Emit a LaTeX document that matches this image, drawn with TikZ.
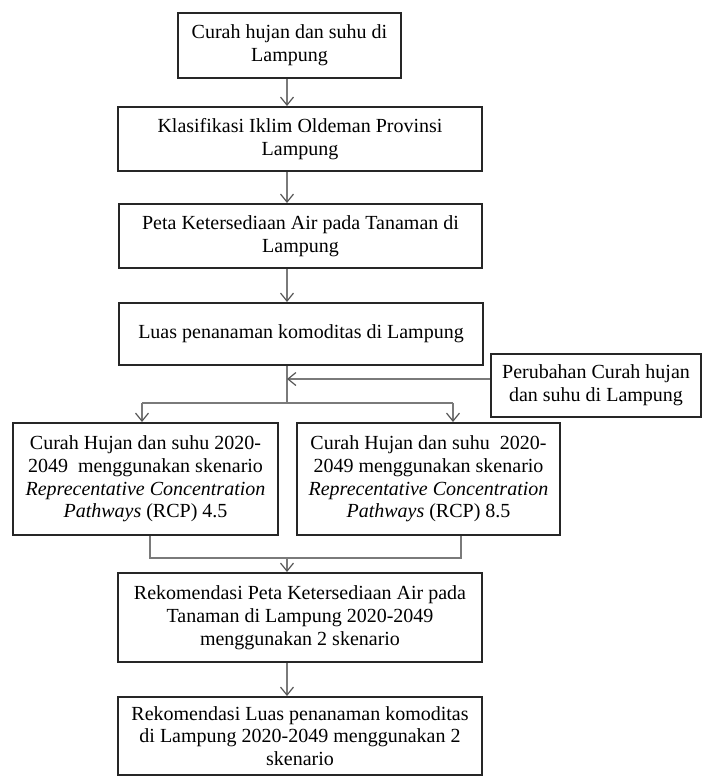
\documentclass[tikz,border=0pt]{standalone}
\usepackage{fontspec}
\setmainfont{Liberation Serif}
\usetikzlibrary{arrows.meta,positioning,calc}
\definecolor{boxline}{HTML}{262626}
\definecolor{linkgray}{HTML}{7A7A7A}
\definecolor{tipgray}{HTML}{555555}
\tikzset{
  flowbox/.style={draw=boxline, line width=1pt, fill=white, align=center,
                  inner sep=3pt, text=black, font=\fontsize{10pt}{11.4pt}\selectfont},
  conn/.style={draw=linkgray, line width=0.65pt},
  arr/.style={conn, -{Straight Barb[length=4pt,width=6.5pt,line width=0.6pt,color=tipgray]}}}
\begin{document}
\begin{tikzpicture}[x=0.5pt,y=-0.5pt]
  \useasboundingbox (0,0) rectangle (702,776);
  % main column
  \node[flowbox, minimum width=111.5pt, minimum height=32.5pt] (hujan) at (289.5,45.5)
    {Curah hujan dan suhu di\\Lampung};
  \node[flowbox, minimum width=182pt, minimum height=32pt] (oldeman) at (300,139)
    {Klasifikasi Iklim Oldeman Provinsi\\Lampung};
  \node[flowbox, minimum width=181.5pt, minimum height=32pt] (peta) at (300.5,236)
    {Peta Ketersediaan Air pada Tanaman di\\Lampung};
  \node[flowbox, minimum width=182pt, minimum height=31pt] (luas) at (301,334)
    {Luas penanaman komoditas di Lampung};
  \node[flowbox, minimum width=105pt, minimum height=31.5pt] (ubah) at (596,385.5)
    {Perubahan Curah hujan\\dan suhu di Lampung};
  % the two scenarios
  \node[flowbox, minimum width=132.5pt, minimum height=56pt] (rcpa) at (145.5,479)
    {Curah Hujan dan suhu 2020-\\2049~~menggunakan skenario\\\textit{Reprecentative Concentration}\\\textit{Pathways} (RCP) 4.5};
  \node[flowbox, minimum width=131.5pt, minimum height=56pt] (rcpb) at (428.5,479)
    {Curah Hujan dan suhu~~2020-\\2049 menggunakan skenario\\\textit{Reprecentative Concentration}\\\textit{Pathways} (RCP) 8.5};
  % recommendations
  \node[flowbox, minimum width=182pt, minimum height=44.5pt] (rekpeta) at (300,617.5)
    {Rekomendasi Peta Ketersediaan Air pada\\Tanaman di Lampung 2020-2049\\menggunakan 2 skenario};
  \node[flowbox, minimum width=182pt, minimum height=39pt] (rekluas) at (300,736)
    {Rekomendasi Luas penanaman komoditas\\di Lampung 2020-2049 menggunakan 2\\skenario};

  \coordinate (jn) at (287,379);
  \coordinate (br) at (287,403);
  \coordinate (la) at (142,403);
  \coordinate (ra) at (453,403);
  \coordinate (lb) at (150,558);
  \coordinate (rb) at (461,558);
  \coordinate (mb) at (287,558);

  \draw[arr] (hujan.south -| jn) -- (oldeman.north -| jn);
  \draw[arr] (oldeman.south -| jn) -- (peta.north -| jn);
  \draw[arr] (peta.south -| jn) -- (luas.north -| jn);
  \draw[conn] (luas.south -| jn) -- (br);
  \draw[arr] (ubah.west |- jn) -- (jn);
  \draw[conn] (la) -- (ra);
  \draw[arr] (la) -- (la |- rcpa.north);
  \draw[arr] (ra) -- (ra |- rcpb.north);
  \draw[conn] (lb |- rcpa.south) -- (lb) -- (rb) -- (rb |- rcpb.south);
  \draw[arr] (mb) -- (mb |- rekpeta.north);
  \draw[arr] (rekpeta.south -| jn) -- (rekluas.north -| jn);
\end{tikzpicture}
\end{document}
